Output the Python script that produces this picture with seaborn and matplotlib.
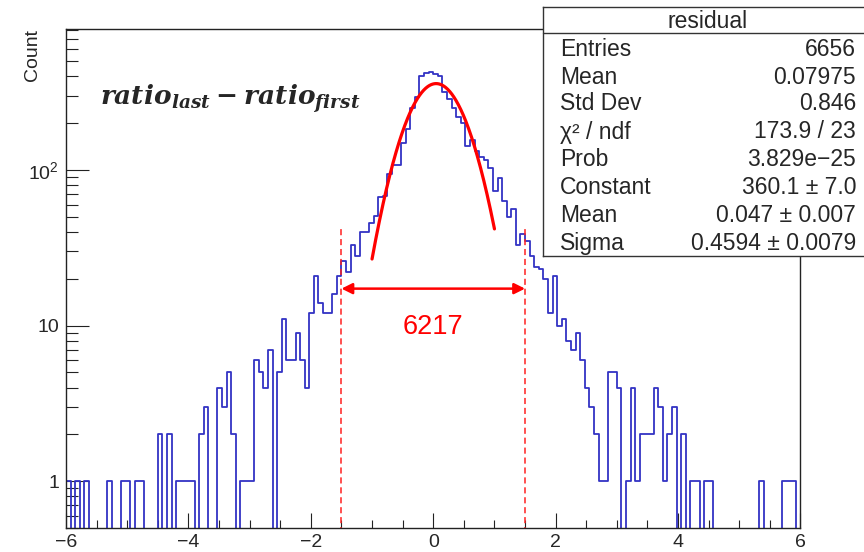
import numpy as np
import pandas as pd
import matplotlib
matplotlib.use("Agg")
import matplotlib.pyplot as plt
import seaborn as sns
from matplotlib.ticker import MultipleLocator, LogLocator, FixedLocator, FixedFormatter, NullFormatter
from matplotlib.lines import Line2D

# ---------------- data ----------------
x_min, x_max, n_bins = -6.0, 6.0, 160
counts = [
    1, 0, 1, 0, 1, 0, 0, 0, 0, 1,          # 0-9
    0, 0, 1, 1, 0, 1, 1, 0, 0, 0,          # 10-19
    2, 0, 2, 0, 1, 1, 1, 1, 0, 2,          # 20-29
    3, 0, 0, 4, 3, 5, 2, 0, 1, 1,          # 30-39
    1, 6, 5, 4, 7, 0, 5, 11, 6, 6,         # 40-49
    9, 6, 4, 12, 21, 14, 12, 12, 16, 21,   # 50-59
    26, 22, 33, 28, 40, 40, 46, 51, 67, 68,            # 60-69
    94, 108, 108, 150, 185, 250, 297, 400, 420, 426,   # 70-79
    415, 405, 320, 286, 250, 221, 200, 143, 157, 132,  # 80-89
    122, 116, 103, 73, 89, 63, 50, 56, 33, 39,         # 90-99
    35, 28, 24, 23, 20, 12, 21, 10, 11, 8,  # 100-109
    7, 9, 6, 4, 3, 2, 1, 1, 5, 5,          # 110-119
    4, 0, 1, 4, 1, 2, 2, 2, 4, 3,          # 120-129
    1, 2, 3, 0, 2, 0, 1, 1, 0, 1,          # 130-139
    1, 0, 0, 0, 0, 0, 0, 0, 0, 0,          # 140-149
    0, 1, 0, 0, 0, 0, 1, 1, 1, 0,          # 150-159
]
fit_constant, fit_mean, fit_sigma = 360.1, 0.047, 0.4594
fit_range = (-1.0, 1.0)
window = (-1.5, 1.5)
window_label = "6217"
formula = r"$\mathbfit{ratio}_{\mathbfit{last}}\;\mathbf{-}\;\mathbfit{ratio}_{\mathbfit{first}}$"
stats_title = "residual"
stats_labels = ["Entries", "Mean", "Std Dev", "χ² / ndf", "Prob", "Constant", "Mean", "Sigma"]
stats_values = ["6656", "0.07975", "0.846", "173.9 / 23", "3.829e\u221225",
                "360.1 \u00b1 7.0", "0.047 \u00b1 0.007", "0.4594 \u00b1 0.0079"]
x_ticks = [-6, -4, -2, 0, 2, 4, 6]
y_ticks = [1, 10, 100]
y_tick_labels = ["1", "10", r"$10^{2}$"]
y_label = "Count"

# ---------------- style ----------------
sns.set_theme(style="ticks")
plt.rcParams['font.family'] = ['Liberation Sans', 'DejaVu Sans']
plt.rcParams['mathtext.fontset'] = 'custom'
plt.rcParams['mathtext.rm'] = 'Liberation Sans'
plt.rcParams['mathtext.it'] = 'Liberation Sans:italic'
plt.rcParams['mathtext.bf'] = 'DejaVu Serif:bold'
plt.rcParams['mathtext.bfit'] = 'DejaVu Serif:italic:bold'

W, H = 864, 552
def fx(px): return px / W
def fy(py): return 1 - py / H

fig = plt.figure(figsize=(W / 100, H / 100), dpi=100)
ax = fig.add_axes([fx(66), fy(528), (800.5 - 66) / W, (528 - 29) / H])

edges = np.linspace(x_min, x_max, n_bins + 1)
centers = (edges[:-1] + edges[1:]) / 2
df = pd.DataFrame({"residual": centers, "count": counts})
sns.histplot(data=df, x="residual", weights="count", bins=edges.tolist(), element="step",
             fill=False, color="#3333c4", linewidth=1.3, ax=ax)
ax.set_yscale("log")

# Gaussian fit curve
xf = np.linspace(fit_range[0], fit_range[1], 300)
yf = fit_constant * np.exp(-0.5 * ((xf - fit_mean) / fit_sigma) ** 2)
sns.lineplot(x=xf, y=yf, color="#ff0000", linewidth=2.3, ax=ax)

# window markers
marker_top = 42
for xv in window:
    ax.plot([xv, xv], [0.3, marker_top], color="#ff2020", linestyle=(0, (4, 2.5)), linewidth=1.1)
arrow_y = 17.3
ax.annotate("", xy=(window[1], arrow_y), xytext=(window[0], arrow_y),
            arrowprops=dict(arrowstyle="<|-|>", color="#ff0000", lw=1.8,
                            mutation_scale=16, shrinkA=0, shrinkB=0))
ax.text(0.0, 9.85, window_label, color="#ff0000", fontsize=19.5, ha="center", va="center")

ax.set_xlim(x_min, x_max)
ax.set_ylim(0.5, 808)
ax.set_xlabel("")
ax.set_ylabel("")

ax.xaxis.set_major_locator(FixedLocator(x_ticks))
ax.xaxis.set_minor_locator(MultipleLocator(0.5))
ax.yaxis.set_major_locator(FixedLocator(y_ticks))
ax.yaxis.set_major_formatter(FixedFormatter(y_tick_labels))
ax.yaxis.set_minor_locator(LogLocator(base=10, subs=np.arange(2, 10), numticks=30))
ax.yaxis.set_minor_formatter(NullFormatter())

ax.tick_params(axis="x", which="major", direction="in", length=10.8, width=0.8,
               pad=4, labelsize=14, bottom=True, top=False, color="#222222")
ax.tick_params(axis="x", which="minor", direction="in", length=5.6, width=0.8,
               bottom=True, top=False, color="#222222")
ax.tick_params(axis="y", which="major", direction="in", length=16.5, width=0.8,
               pad=5, labelsize=14, left=True, right=False, color="#222222")
ax.tick_params(axis="y", which="minor", direction="in", length=8.5, width=0.8,
               left=True, right=False, color="#222222")
for s in ax.spines.values():
    s.set_color("#222222")
    s.set_linewidth(1.0)

fig.text(fx(32), fy(29), y_label, rotation=90, ha="center", va="top", fontsize=14)
fig.text(fx(100), fy(105), formula, fontsize=19, ha="left", va="baseline")

# statistics box
sax = fig.add_axes([fx(543), fy(256), (870 - 543) / W, (256 - 7) / H])
sax.set_facecolor("white")
sax.set_xticks([]); sax.set_yticks([])
for s in sax.spines.values():
    s.set_color("#333333")
    s.set_linewidth(1.0)
fig.add_artist(Line2D([fx(543), 1.0], [fy(33), fy(33)], transform=fig.transFigure,
                      color="#333333", linewidth=1.0))
fig.text(fx(708), fy(21), stats_title, ha="center", va="center", fontsize=16.5)
row_y = [49, 77, 104, 132, 160, 188, 216, 243]
for lab, val, yy in zip(stats_labels, stats_values, row_y):
    fig.text(fx(560), fy(yy), lab, ha="left", va="center", fontsize=16.5)
    fig.text(fx(856), fy(yy), val, ha="right", va="center", fontsize=16.5)

fig.savefig("out.png", dpi=100, facecolor="white")
